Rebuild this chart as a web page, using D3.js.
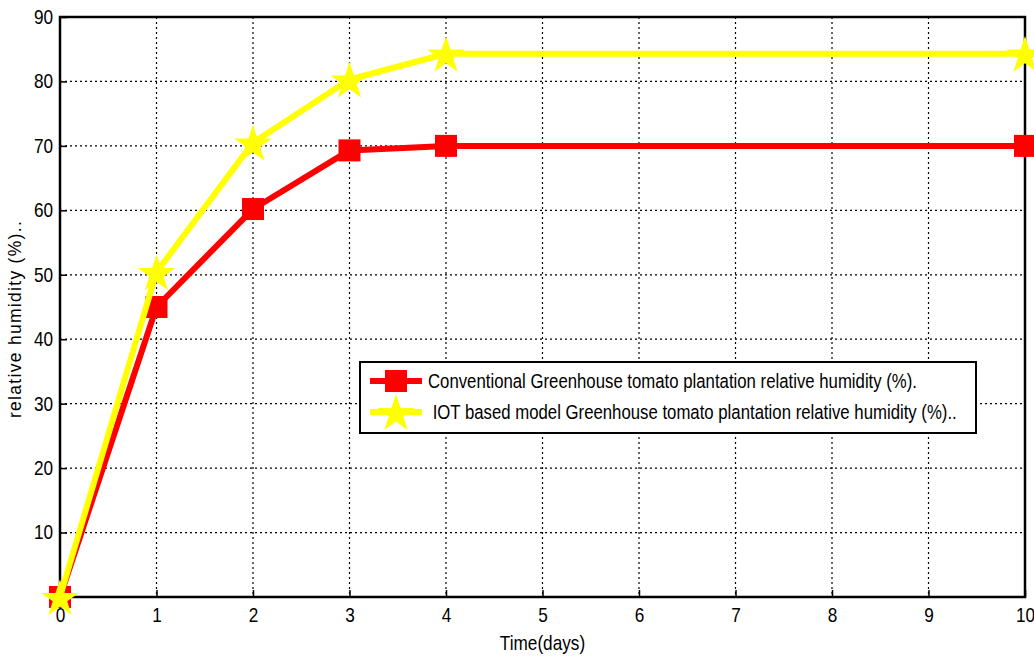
<!DOCTYPE html>
<html>
<head>
<meta charset="utf-8">
<script src="https://cdn.jsdelivr.net/npm/d3@7"></script>
<style>
  body { margin: 0; background: #fff; }
  text { font-family: "Liberation Sans", Arial, sans-serif; fill: #000; }
</style>
</head>
<body>
<div id="chart"></div>
<script>
const days = [0, 1, 2, 3, 4, 10];
const conventional = [0, 45, 60.2, 69.3, 70, 70];
const iotModel = [0, 50.4, 70.5, 80.3, 84.3, 84.3];
const xTicks = [0, 1, 2, 3, 4, 5, 6, 7, 8, 9, 10];
const yTicks = [10, 20, 30, 40, 50, 60, 70, 80, 90];
const seriesNames = [
  "Conventional Greenhouse tomato plantation relative humidity (%).",
  " IOT based model Greenhouse tomato plantation relative humidity (%).."
];

const W = 1034, H = 659;
const margin = { top: 17, right: 9, bottom: 62, left: 60 };
const width = W - margin.left - margin.right;
const height = H - margin.top - margin.bottom;
const narrow = "scale(0.86,1)";

const svg = d3.select("#chart").append("svg")
  .attr("width", W)
  .attr("height", H);

const g = svg.append("g")
  .attr("transform", "translate(" + margin.left + "," + margin.top + ")");

const x = d3.scaleLinear().domain([0, 10]).range([0, width]);
const y = d3.scaleLinear().domain([0, 90]).range([height, 0]);

// grid
g.append("g").selectAll("line")
  .data(xTicks.slice(1, -1))
  .enter().append("line")
  .attr("x1", d => x(d)).attr("x2", d => x(d))
  .attr("y1", 0).attr("y2", height)
  .attr("stroke", "#000").attr("stroke-width", 1.2)
  .attr("stroke-dasharray", "2,3");

g.append("g").selectAll("line")
  .data(yTicks.slice(0, -1))
  .enter().append("line")
  .attr("x1", 0).attr("x2", width)
  .attr("y1", d => y(d)).attr("y2", d => y(d))
  .attr("stroke", "#000").attr("stroke-width", 1.2)
  .attr("stroke-dasharray", "2,3");

// axes, ticks pointing inward
const xAxis = g.append("g")
  .attr("transform", "translate(0," + height + ")")
  .call(d3.axisBottom(x).tickValues(xTicks).tickSize(-7).tickPadding(11).tickFormat(d3.format("d")));
const yAxis = g.append("g")
  .call(d3.axisLeft(y).tickValues(yTicks).tickSize(-7).tickPadding(8).tickFormat(d3.format("d")));
[xAxis, yAxis].forEach(a => {
  a.select(".domain").remove();
  a.selectAll("line").attr("stroke", "#000").attr("stroke-width", 1.5);
  a.selectAll("text")
    .attr("transform", narrow)
    .style("font-size", "20px").style("font-family", null);
});

// frame
g.append("rect")
  .attr("width", width).attr("height", height)
  .attr("fill", "none").attr("stroke", "#000").attr("stroke-width", 2.5);

const line = d3.line().x(d => x(d[0])).y(d => y(d[1]));
const starPath = d3.symbol().type(d3.symbolStar).size(440);

function drawSeries(vals, color, marker) {
  const pts = days.map((d, k) => [d, vals[k]]);
  g.append("path").datum(pts)
    .attr("d", line)
    .attr("fill", "none").attr("stroke", color).attr("stroke-width", 6)
    .attr("stroke-linejoin", "round");
  if (marker === "square") {
    g.append("g").selectAll("rect").data(pts).enter().append("rect")
      .attr("x", d => x(d[0]) - 11).attr("y", d => y(d[1]) - 11)
      .attr("width", 22).attr("height", 22)
      .attr("fill", color);
  } else {
    g.append("g").selectAll("path").data(pts).enter().append("path")
      .attr("d", starPath)
      .attr("transform", d => "translate(" + x(d[0]) + "," + (y(d[1]) + 2) + ")")
      .attr("fill", color);
  }
}
drawSeries(conventional, "#ff0000", "square");
drawSeries(iotModel, "#ffff00", "star");

// axis labels
svg.append("g")
  .attr("transform", "translate(" + (margin.left + x(5)) + ",650) " + narrow)
  .append("text")
  .attr("text-anchor", "middle")
  .style("font-size", "20px")
  .text("Time(days)");

svg.append("text")
  .attr("transform", "translate(21," + (margin.top + y(45) + 12) + ") rotate(-90)")
  .attr("text-anchor", "middle")
  .style("font-size", "17.5px")
  .style("letter-spacing", "1.3px")
  .text("relative humidity (%)..");

// legend
const lg = svg.append("g").attr("transform", "translate(360,362)");
lg.append("rect")
  .attr("width", 616).attr("height", 71)
  .attr("fill", "#fff").attr("stroke", "#000").attr("stroke-width", 2);
const legendRows = [
  { name: seriesNames[0], color: "#ff0000", marker: "square", cy: 19 },
  { name: seriesNames[1], color: "#ffff00", marker: "star", cy: 50 }
];
legendRows.forEach(r => {
  lg.append("line")
    .attr("x1", 10).attr("x2", 62).attr("y1", r.cy).attr("y2", r.cy)
    .attr("stroke", r.color).attr("stroke-width", 6);
  if (r.marker === "square") {
    lg.append("rect").attr("x", 25).attr("y", r.cy - 11).attr("width", 22).attr("height", 22).attr("fill", r.color);
  } else {
    lg.append("path").attr("d", starPath)
      .attr("transform", "translate(36," + (r.cy + 2) + ")").attr("fill", r.color);
  }
  lg.append("g")
    .attr("transform", "translate(68," + (r.cy + 7) + ") scale(0.86,1)")
    .append("text")
    .style("font-size", "19.5px")
    .attr("xml:space", "preserve")
    .style("white-space", "pre")
    .text(r.name);
});
</script>
</body>
</html>
